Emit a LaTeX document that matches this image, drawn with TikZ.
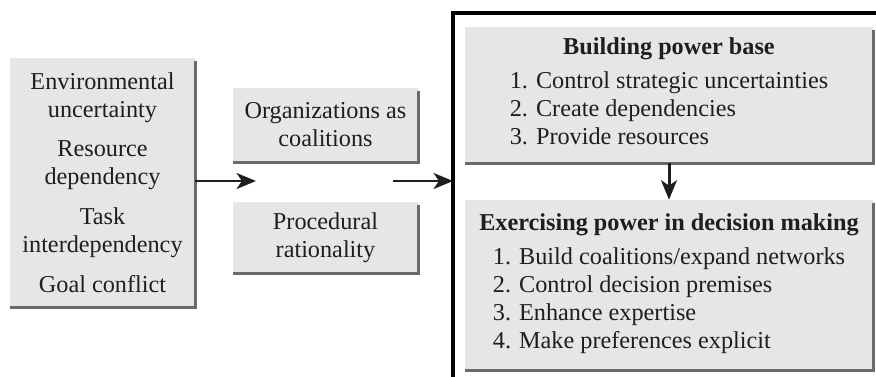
\documentclass[tikz,border=0pt]{standalone}
\usepackage{fontspec}
\setmainfont{Liberation Serif}
\usetikzlibrary{arrows.meta}
\definecolor{boxgray}{HTML}{E6E6E6}
\definecolor{shadowgray}{HTML}{6A6A6A}
\definecolor{inkcol}{HTML}{1E1E22}
\tikzset{
  box/.style={fill=boxgray, inner sep=0pt, align=center, text=inkcol,
    font=\fontsize{13.8}{15.9}\selectfont},
  shadowline/.style={draw=shadowgray, line width=1.5pt},
  arr/.style={draw=inkcol, line width=1.7pt, -{Stealth[length=11pt,width=9pt,inset=3pt]}},
  framel/.style={draw=black, line width=2pt},
}
\newcommand{\shadowbox}[1]{\draw[shadowline] (#1.north east) ++(0,3) -- (#1.south east) -- (#1.south west);}
\begin{document}
\begin{tikzpicture}[x=0.02cm,y=-0.02cm]
\useasboundingbox (0,0) rectangle (876,376);
% left box
\node[box, minimum width=185*0.02cm, minimum height=249*0.02cm] (env) at (102.5,182.5)
  {Environmental\\uncertainty\\[6.8pt]Resource\\dependency\\[6.8pt]Task\\interdependency\\[6.8pt]Goal conflict};
\shadowbox{env}
% middle boxes
\node[box, minimum width=185*0.02cm, minimum height=74*0.02cm] (org) at (325.5,125)
  {Organizations as\\coalitions};
\shadowbox{org}
\node[box, minimum width=185*0.02cm, minimum height=71*0.02cm] (proc) at (325.5,237.5)
  {Procedural\\rationality};
\shadowbox{proc}
% frame
\draw[framel] (453,380) -- (453,13) -- (880,13);
\coordinate (fl) at (453,181);
% right boxes
\node[box, minimum width=408*0.02cm, minimum height=136*0.02cm] (base) at (669,95)
  {\textbf{Building power base}\\[4.5pt]%
   \begin{tabular}{@{}l@{}}1. Control strategic uncertainties\\2. Create dependencies\\3. Provide resources\end{tabular}};
\shadowbox{base}
\node[box, minimum width=408*0.02cm, minimum height=170*0.02cm] (exer) at (669,285)
  {\textbf{Exercising power in decision making}\\[4.5pt]%
   \begin{tabular}{@{}l@{}}1. Build coalitions/expand networks\\2. Control decision premises\\3. Enhance expertise\\4. Make preferences explicit\end{tabular}};
\shadowbox{exer}
% arrows
\coordinate (a1e) at (256,181);
\coordinate (a2s) at (393,181);
\draw[arr] (env.east |- a1e) -- (a1e);
\draw[arr] (a2s) -- (fl);
\draw[arr] (base.south) -- (exer.north);
\end{tikzpicture}
\end{document}
